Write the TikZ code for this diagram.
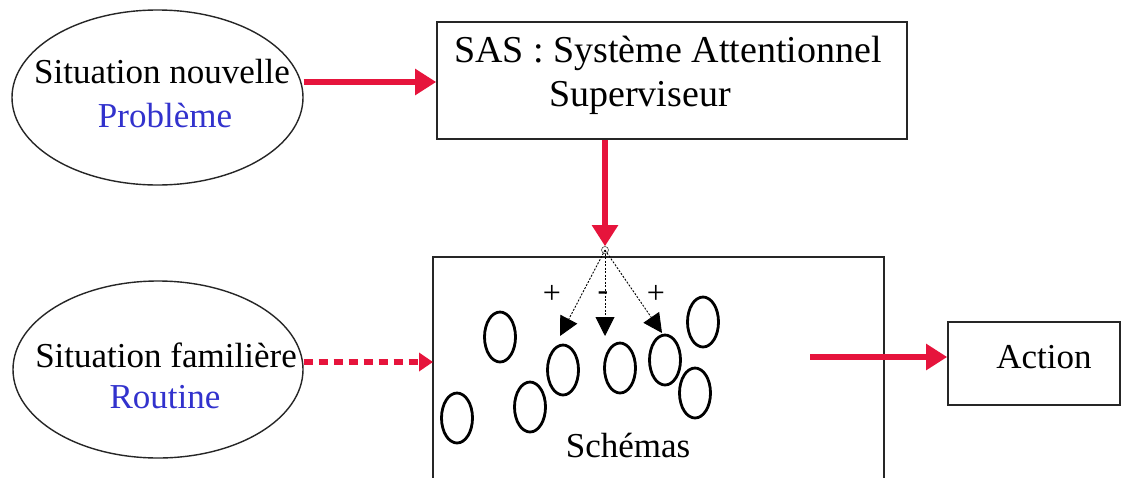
\documentclass[tikz,border=0pt]{standalone}
\usepackage{fontspec}
\setmainfont{Liberation Serif}
\usetikzlibrary{arrows.meta}
\definecolor{arrred}{RGB}{230,20,60}
\definecolor{txtblue}{RGB}{50,50,205}
\tikzset{
  x=1pt, y=-1pt,
  txt/.style={font=\fontsize{35}{38}\selectfont, inner sep=0pt},
  sastxt/.style={font=\fontsize{38}{44}\selectfont, inner sep=0pt},
  signtxt/.style={font=\fontsize{32}{34}\selectfont, inner sep=0pt},
  bigell/.style={draw=black!85, line width=1.4pt, ellipse, inner sep=0pt},
  boxst/.style={draw=black!85, line width=1.6pt, inner sep=0pt},
  schema/.style={draw=black, line width=2.8pt, ellipse, minimum width=31pt, minimum height=50pt, inner sep=0pt},
  redarrow/.style={draw=arrred, line width=5.5pt, -{Triangle[length=21pt,width=25pt]}},
  reddash/.style={draw=arrred, line width=5.5pt, dash pattern=on 9pt off 6pt, -{Triangle[length=14pt,width=18pt]}},
  dotarrow/.style={draw=black, line width=0.9pt, dash pattern=on 2pt off 1.5pt, -{Triangle[length=19pt,width=19pt]}},
}
\usetikzlibrary{shapes.geometric}
\begin{document}
\begin{tikzpicture}
\useasboundingbox (0,0) rectangle (1123,477);
\fill[white] (0,0) rectangle (1123,477);
\begin{scope}
\clip (0,0) rectangle (1123,477);
% big ellipses
\node[bigell, minimum width=291pt, minimum height=175pt] (nouv) at (157.5,97.5) {};
\node[txt] (nouvt) at (162,72) {Situation nouvelle};
\node[txt, text=txtblue] (prob) at (165,115) {Problème};
\node[bigell, minimum width=290pt, minimum height=177pt] (fam) at (158,369.5) {};
\node[txt] (famt) at (166,355) {Situation familière};
\node[txt, text=txtblue] (rout) at (165,397) {Routine};
% SAS box
\node[boxst, minimum width=470pt, minimum height=117pt] (sas) at (672,80.5) {};
\node[sastxt] (sas1) at (668,53) {SAS : Système Attentionnel};
\node[sastxt] (sas2) at (640,98) {Superviseur};
% Schemas box
\node[boxst, minimum width=451pt, minimum height=260pt] (sch) at (658.5,387) {};
\node[txt] (scht) at (628,445) {Schémas};
% Action box
\node[boxst, minimum width=172pt, minimum height=83pt] (act) at (1034,363.5) {};
\node[txt] (actt) at (1044,357) {Action};
% schema ellipses
\node[schema] (s1) at (500,337) {};
\node[schema] (s2) at (457,418) {};
\node[schema] (s3) at (530,407) {};
\node[schema] (s4) at (563,370) {};
\node[schema] (s5) at (620,368) {};
\node[schema] (s6) at (665,360) {};
\node[schema] (s7) at (703,322) {};
\node[schema] (s8) at (695,393) {};
% apex and coordinates
\coordinate (apex) at (605,250);
\coordinate (tl) at (560,336);
\coordinate (tm) at (605,336);
\coordinate (tr) at (662,333);
\coordinate (actstart) at (810,357);
\coordinate (famend) at (433,362);
\node[draw=black!70, line width=0.6pt, circle, minimum size=7pt, inner sep=0pt] (apc) at (apex) {};
% connectors
\draw[redarrow] (nouv.east |- 0,82) -- (sas.west |- 0,82);
\draw[redarrow] (sas.south -| apex) -- (apc.north);
\draw[reddash] (fam.east |- famend) -- (famend);
\draw[redarrow] (actstart) -- (act.west |- actstart);
\draw[dotarrow] (apex) -- (tl);
\draw[dotarrow] (apex) -- (tm);
\draw[dotarrow] (apex) -- (tr);
% signs
\node[signtxt] (p1) at (552,294) {+};
\node[signtxt] (m1) at (603,296) {-};
\node[signtxt] (p2) at (656,294) {+};
\end{scope}
\end{tikzpicture}
\end{document}
